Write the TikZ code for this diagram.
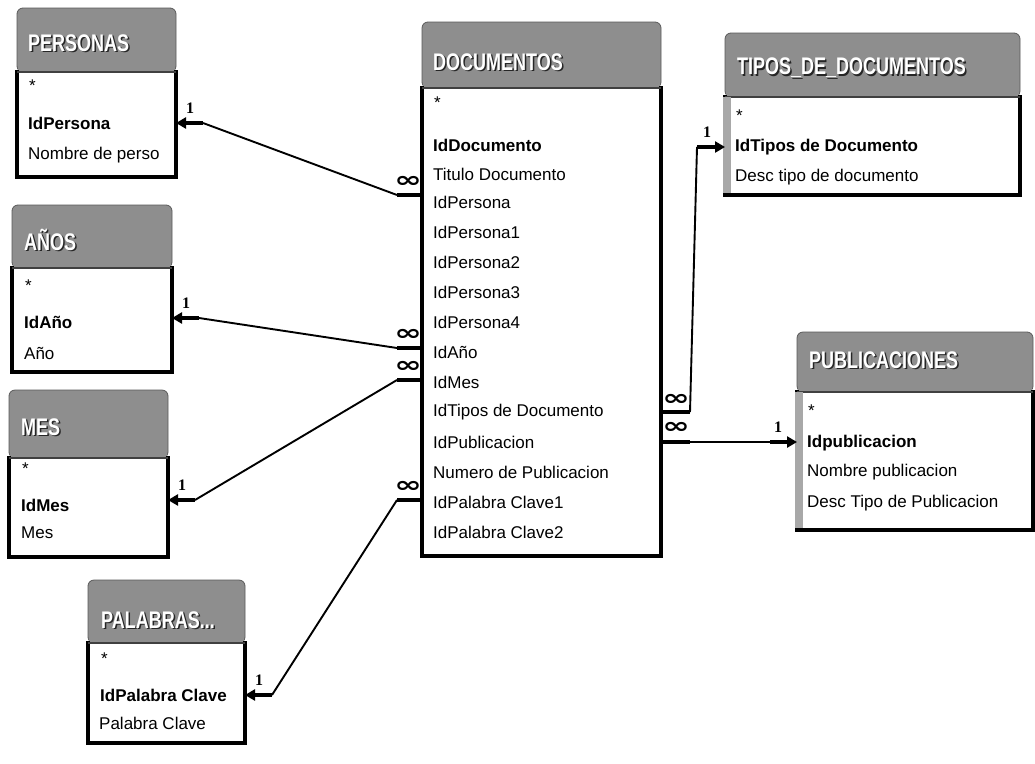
\documentclass[tikz,border=0pt]{standalone}
\usepackage{fontspec}
\setmainfont{Liberation Sans}
\newfontfamily\hdrfont[FakeStretch=0.75]{Liberation Sans}
\newfontfamily\cardfont{Liberation Serif}
\newfontfamily\symfont[FakeStretch=1.5]{DejaVu Sans}
\usetikzlibrary{arrows.meta,calc}

\definecolor{hdrgray}{HTML}{8E8E8E}
\definecolor{hdredge}{HTML}{5A5A5A}
\definecolor{bandgray}{HTML}{A8A8A8}

\tikzset{
  tbody/.style={fill=white, draw=none, inner sep=0pt, outer sep=0pt, anchor=north west},
  frame/.style={line width=3.4pt, black, line cap=rect},
  hdr/.style={fill=hdrgray, draw=hdredge, line width=0.8pt},
  htitle/.style={anchor=west, inner sep=0pt, text=white,
    font=\hdrfont\bfseries\fontsize{24}{24}\selectfont},
  field/.style={anchor=west, inner sep=0pt, font=\fontsize{17}{18}\selectfont},
  keyfield/.style={field, font=\bfseries\fontsize{17}{18}\selectfont},
  conn/.style={line width=1.9pt, black},
  stub/.style={line width=4.4pt, black},
  onearrow/.style={-{Triangle[length=10pt,width=11pt]}},
  card/.style={inner sep=0pt, font=\cardfont\bfseries\fontsize{16}{16}\selectfont},
  many/.style={inner sep=0pt, font=\symfont\bfseries\fontsize{22}{22}\selectfont},
}

% table window: #1 name, #2 left, #3 top, #4 right, #5 title bar bottom, #6 bottom
\newcommand\dbtable[6]{%
  \filldraw[hdr, rounded corners=6pt] (#2,#3) rectangle (#4,#5);
  \fill[hdrgray] (#2+0.6,#5-12) rectangle (#4-0.6,#5);
  \node[tbody, minimum width={#4-#2}, minimum height={#6-#5}] (#1) at (#2,#5) {};
  \draw[frame] (#1.north west) -- (#1.south west) -- (#1.south east) -- (#1.north east);
  \draw[line width=1.2pt, black!75] (#1.north west) -- (#1.north east);
}
% title with dark shadow: #1 name, #2 x, #3 y, #4 text
\newcommand\dbtitle[4]{%
  \node[htitle, text=black!85] (#1s) at (#2+1.4,#3+1.4) {#4};
  \node[htitle] (#1) at (#2,#3) {#4};
}
% one-to-many link, "1" side on the left: #1 one end, #2 many end, #3 tag
\newcommand\relL[3]{%
  \draw[conn] ($(#1)+(27,0)$) -- ($(#2)+(-25,0)$);
  \draw[stub, onearrow] ($(#1)+(27,0)$) -- (#1);
  \draw[stub] ($(#2)+(-25,0)$) -- (#2);
  \node[card] (#3one) at ($(#1)+(14,-15)$) {1};
  \node[many] (#3many) at ($(#2)+(-14,-13)$) {∞};
}

\begin{document}
\begin{tikzpicture}[x=1pt,y=-1pt]
\useasboundingbox (0,0) rectangle (1035,763);
\fill[white] (0,0) rectangle (1035,763);

% ---------------- PERSONAS
\dbtable{per}{17}{8}{176}{72}{177}
\dbtitle{perT}{28}{43}{PERSONAS}
\node[field] (pr0) at (29,86) {*};
\node[keyfield] (pr1) at (28,123) {IdPersona};
\node[field] (pr2) at (28,155) {Nombre de perso};

% ---------------- AÑOS
\dbtable{ano}{12}{205}{172}{268}{372}
\dbtitle{anoT}{24}{240}{AÑOS}
\node[field] (ar0) at (25,286) {*};
\node[keyfield] (ar1) at (24,322) {IdAño};
\node[field] (ar2) at (24,353) {Año};

% ---------------- MES
\dbtable{mes}{9}{390}{168}{458}{557}
\dbtitle{mesT}{21}{427}{MES}
\node[field] (mr0) at (22,469) {*};
\node[keyfield] (mr1) at (21,505) {IdMes};
\node[field] (mr2) at (21,533) {Mes};

% ---------------- PALABRAS...
\dbtable{pal}{88}{580}{245}{643}{743}
\dbtitle{palT}{101}{620}{PALABRAS...}
\node[field] (lr0) at (101,659) {*};
\node[keyfield] (lr1) at (100,695) {IdPalabra Clave};
\node[field] (lr2) at (99,723) {Palabra Clave};

% ---------------- DOCUMENTOS
\dbtable{doc}{422}{22}{661}{88}{556}
\dbtitle{docT}{433}{62}{DOCUMENTOS}
\node[field] (dr0) at (434,103) {*};
\node[keyfield] (d0) at (433,145) {IdDocumento};
\node[field] (d1) at (433,174) {Titulo Documento};
\node[field] (d2) at (433,202) {IdPersona};
\node[field] (d3) at (433,232) {IdPersona1};
\node[field] (d4) at (433,262) {IdPersona2};
\node[field] (d5) at (433,292) {IdPersona3};
\node[field] (d6) at (433,322) {IdPersona4};
\node[field] (d7) at (433,352) {IdAño};
\node[field] (d8) at (433,382) {IdMes};
\node[field] (d9) at (433,412) {IdTipos de Documento};
\node[field] (d10) at (433,442) {IdPublicacion};
\node[field] (d11) at (433,472) {Numero de Publicacion};
\node[field] (d12) at (433,502) {IdPalabra Clave1};
\node[field] (d13) at (433,532) {IdPalabra Clave2};

% ---------------- TIPOS_DE_DOCUMENTOS
\dbtable{tip}{725}{33}{1020}{97}{195}
\fill[bandgray] ([xshift=-1.7pt]tip.north west) rectangle ([xshift=6pt,yshift=1.7pt]tip.south west);
\dbtitle{tipT}{737}{68}{TIPOS\_DE\_DOCUMENTOS}
\node[field] (tr0) at (736,116) {*};
\node[keyfield] (tr1) at (735,147) {IdTipos de Documento};
\node[field] (tr2) at (735,177) {Desc tipo de documento};

% ---------------- PUBLICACIONES
\dbtable{pub}{797}{332}{1033}{392}{530}
\fill[bandgray] ([xshift=-1.7pt]pub.north west) rectangle ([xshift=6pt,yshift=1.7pt]pub.south west);
\dbtitle{pubT}{809}{360}{PUBLICACIONES}
\node[field] (ur0) at (808,411) {*};
\node[keyfield] (ur1) at (807,443) {Idpublicacion};
\node[field] (ur2) at (807,472) {Nombre publicacion};
\node[field] (ur3) at (807,503) {Desc Tipo de Publicacion};

% ---------------- relationships on the left of DOCUMENTOS
\coordinate (o1) at (per.east |- pr1);
\coordinate (n1) at ($(doc.west |- d2)+(0,-7)$);
\relL{o1}{n1}{rPer}

\coordinate (o2) at ($(ano.east |- ar1)+(0,-4)$);
\coordinate (n2) at ($(doc.west |- d7)+(0,-4)$);
\relL{o2}{n2}{rAno}

\coordinate (o3) at ($(mes.east |- mr1)+(0,-5)$);
\coordinate (n3) at ($(doc.west |- d8)+(0,-2)$);
\relL{o3}{n3}{rMes}

\coordinate (o4) at (pal.east |- lr1);
\coordinate (n4) at ($(doc.west |- d12)+(0,-2)$);
\relL{o4}{n4}{rPal}

% ---------------- relationships on the right of DOCUMENTOS
\coordinate (n5) at (doc.east |- d9);
\coordinate (o5) at (tip.west |- tr1);
\draw[conn] ($(n5)+(29,0)$) -- ($(o5)+(-28,0)$);
\draw[stub] (n5) -- ($(n5)+(29,0)$);
\draw[stub, onearrow] ($(o5)+(-28,0)$) -- (o5);
\node[many] (rTipmany) at ($(n5)+(15,-12)$) {∞};
\node[card] (rTipone) at ($(o5)+(-18,-15)$) {1};

\coordinate (n6) at (doc.east |- d10);
\coordinate (o6) at (pub.west |- n6);
\draw[conn] ($(n6)+(29,0)$) -- ($(o6)+(-27,0)$);
\draw[stub] (n6) -- ($(n6)+(29,0)$);
\draw[stub, onearrow] ($(o6)+(-27,0)$) -- (o6);
\node[many] (rPubmany) at ($(n6)+(15,-14)$) {∞};
\node[card] (rPubone) at ($(o6)+(-19,-15)$) {1};
\end{tikzpicture}
\end{document}
